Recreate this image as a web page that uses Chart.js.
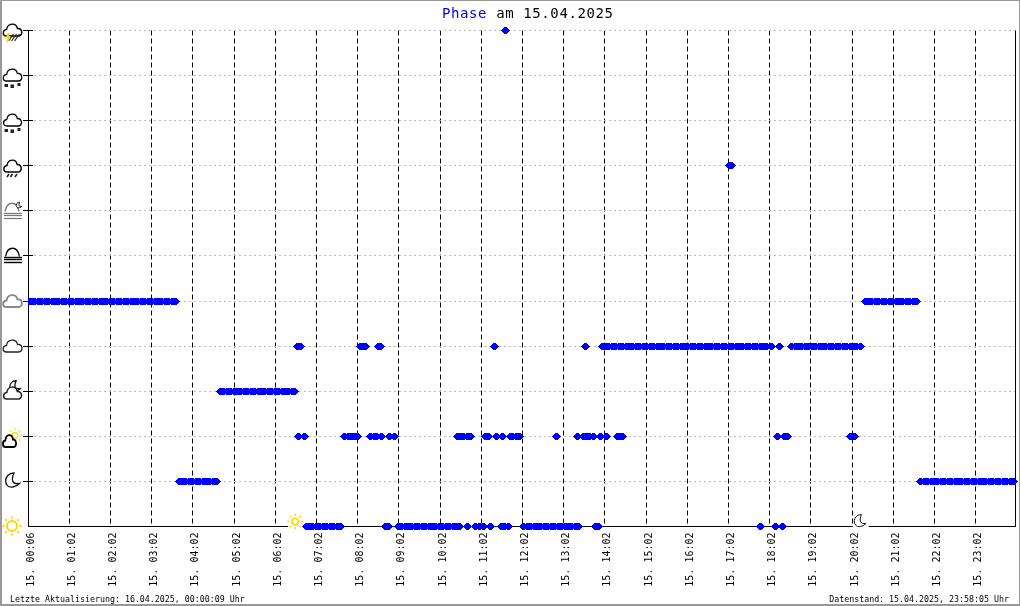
<!DOCTYPE html>
<html>
<head>
<meta charset="utf-8">
<title>Phase</title>
<script src="https://cdn.jsdelivr.net/npm/chart.js@4/dist/chart.umd.js"></script>
<style>
  html, body { margin: 0; padding: 0; background: #fff; }
  #wrap { position: relative; width: 1020px; height: 606px; overflow: hidden; }
  #wrap canvas { position: absolute; left: 0; top: 0; }
  .txt { position: absolute; font-family: "DejaVu Sans Mono", monospace; white-space: pre; color: #000; }
  #titel { left: 442px; top: 5px; font-size: 14px; letter-spacing: 0.6px; line-height: 16px; }
  #titel b { font-weight: normal; color: #0000ff; }
  #links { left: 10px; top: 594px; font-size: 8.3px; }
  #rechts { right: 11px; top: 594px; font-size: 8.3px; }
</style>
</head>
<body>
<div id="wrap">
  <canvas id="chart" width="1020" height="606"></canvas>
  <div class="txt" id="titel"><b>Phase</b> am 15.04.2025</div>
  <div class="txt" id="links">Letzte Aktualisierung: 16.04.2025, 00:00:09 Uhr</div>
  <div class="txt" id="rechts">Datenstand: 15.04.2025, 23:58:05 Uhr</div>
</div>
<script>
// Tick-Positionen (Minuten seit Mitternacht) und Beschriftungen
const tickMinutes = [2, 62, 122, 182, 242, 302, 362, 422, 482, 542, 602, 662, 722, 782, 842, 902, 962, 1022, 1082, 1142, 1202, 1262, 1322, 1382];
const tickLabels = ['15. 00:06', '15. 01:02', '15. 02:02', '15. 03:02', '15. 04:02', '15. 05:02', '15. 06:02', '15. 07:02', '15. 08:02', '15. 09:02', '15. 10:02', '15. 11:02', '15. 12:02', '15. 13:02', '15. 14:02', '15. 15:02', '15. 16:02', '15. 17:02', '15. 18:02', '15. 19:02', '15. 20:02', '15. 21:02', '15. 22:02', '15. 23:02'];

// Phasen von unten nach oben, je Phase die Messzeiten in Minuten
const klar = [407, 412, 417, 422, 427, 432, 437, 442, 447, 452, 457, 523, 527, 541, 546, 551, 556, 561, 566, 571, 576, 581, 586, 591, 596, 601, 606, 611, 616, 621, 626, 630, 642, 654, 660, 666, 675, 691, 696, 701, 724, 729, 734, 739, 744, 749, 754, 759, 764, 769, 774, 779, 784, 789, 794, 799, 804, 829, 833, 1069, 1091, 1101];
const mond = [222, 227, 232, 237, 242, 247, 252, 257, 262, 267, 272, 276, 1302, 1307, 1312, 1317, 1322, 1327, 1332, 1337, 1342, 1347, 1352, 1357, 1362, 1367, 1372, 1377, 1382, 1387, 1392, 1397, 1402, 1407, 1412, 1417, 1422, 1427, 1432, 1437];
const heiter = [396, 405, 463, 468, 473, 477, 482, 501, 506, 510, 517, 529, 535, 628, 632, 636, 642, 647, 668, 672, 684, 693, 704, 708, 713, 717, 772, 802, 811, 816, 820, 825, 835, 845, 860, 865, 868, 1094, 1104, 1108, 1200, 1205];
const mondWolken = [282, 287, 292, 297, 302, 307, 312, 317, 322, 327, 332, 337, 342, 347, 352, 357, 362, 367, 372, 377, 382, 387, 390];
const wolkig = [394, 399, 486, 491, 494, 512, 515, 681, 814, 838, 843, 848, 853, 858, 863, 868, 873, 878, 883, 888, 893, 898, 903, 908, 913, 918, 923, 928, 933, 938, 943, 948, 953, 958, 963, 968, 973, 978, 983, 988, 993, 998, 1003, 1008, 1013, 1018, 1023, 1028, 1033, 1038, 1043, 1048, 1053, 1058, 1063, 1068, 1073, 1078, 1084, 1096, 1114, 1119, 1124, 1129, 1134, 1139, 1144, 1149, 1154, 1159, 1164, 1169, 1174, 1179, 1184, 1189, 1194, 1199, 1204, 1209, 1215];
const bedeckt = [3, 7, 12, 17, 22, 27, 32, 37, 42, 47, 52, 57, 62, 67, 72, 77, 82, 87, 92, 97, 102, 107, 112, 117, 122, 127, 132, 137, 142, 147, 152, 157, 162, 167, 172, 177, 182, 187, 192, 197, 202, 207, 212, 217, 1221, 1226, 1231, 1236, 1241, 1246, 1251, 1256, 1261, 1266, 1271, 1276, 1281, 1286, 1291, 1296];
const nebel = [];
const dunst = [];
const regen = [1023, 1027];
const schneeregen = [];
const schnee = [];
const gewitter = [697];

// Sonnenaufgang und -untergang auf der Zeitachse
const aufgang = 391;
const untergang = 1213;

const phasen = [klar, mond, heiter, mondWolken, wolkig, bedeckt, nebel, dunst, regen, schneeregen, schnee, gewitter];

// Punkte aus den Listen aufbauen
function buildPoints() {
  const punkte = [];
  phasen.forEach((zeiten, stufe) => {
    zeiten.forEach(m => punkte.push({ x: m, y: stufe }));
  });
  return punkte;
}

// Raute als kleines Pixelbild, wie im Original
function buildRaute() {
  const c = document.createElement('canvas');
  c.width = 9;
  c.height = 7;
  const g = c.getContext('2d');
  g.fillStyle = '#0000ff';
  [3, 5, 7, 9, 7, 5, 3].forEach((w, i) => g.fillRect((9 - w) / 2, i, w, 1));
  return c;
}

// Icons
function wolke(ctx, x, y, farbe, breite, sx) {
  const s = sx || 1;
  ctx.strokeStyle = farbe;
  ctx.lineWidth = breite;
  ctx.fillStyle = '#fff';
  ctx.beginPath();
  ctx.moveTo(x - 6 * s, y + 6);
  ctx.bezierCurveTo(x - 10.5 * s, y + 6, x - 10.5 * s, y, x - 6 * s, y - 0.5);
  ctx.bezierCurveTo(x - 5 * s, y - 7.5, x + 4 * s, y - 7.5, x + 5 * s, y - 1.5);
  ctx.bezierCurveTo(x + 10.5 * s, y - 2, x + 11 * s, y + 6, x + 6 * s, y + 6);
  ctx.closePath();
  ctx.fill();
  ctx.stroke();
}

function sonne(ctx, x, y, r, breite) {
  ctx.strokeStyle = '#ffd700';
  ctx.lineWidth = breite;
  ctx.fillStyle = '#fff';
  ctx.beginPath();
  ctx.arc(x, y, r, 0, Math.PI * 2);
  ctx.fill();
  ctx.stroke();
  for (let i = 0; i < 8; i++) {
    const w = i * Math.PI / 4;
    ctx.beginPath();
    ctx.moveTo(x + Math.cos(w) * (r + 2.5), y + Math.sin(w) * (r + 2.5));
    ctx.lineTo(x + Math.cos(w) * (r + 4.5), y + Math.sin(w) * (r + 4.5));
    ctx.stroke();
  }
}

function sichel(ctx, x, y, s, breite) {
  ctx.strokeStyle = '#111';
  ctx.lineWidth = breite;
  ctx.fillStyle = '#fff';
  ctx.beginPath();
  ctx.moveTo(x + 1.5 * s, y - 7 * s);
  ctx.bezierCurveTo(x - 9.5 * s, y - 7 * s, x - 9.5 * s, y + 9 * s, x + 0.5 * s, y + 7 * s);
  ctx.quadraticCurveTo(x + 4 * s, y + 6.5 * s, x + 7 * s, y + 3.5 * s);
  ctx.quadraticCurveTo(x - 3.5 * s, y + 5 * s, x + 1.5 * s, y - 7 * s);
  ctx.closePath();
  ctx.fill();
  ctx.stroke();
}

function striche(ctx, yListe, farbe, breite) {
  ctx.strokeStyle = farbe;
  ctx.lineWidth = breite;
  yListe.forEach(yy => {
    ctx.beginPath();
    ctx.moveTo(4, yy);
    ctx.lineTo(22, yy);
    ctx.stroke();
  });
}

function kuppel(ctx, x, y, farbe) {
  ctx.strokeStyle = farbe;
  ctx.lineWidth = 1.3;
  ctx.beginPath();
  ctx.moveTo(x - 7, y);
  ctx.bezierCurveTo(x - 5, y - 11, x + 5, y - 11, x + 7, y);
  ctx.stroke();
}

function flocken(ctx, y, oben) {
  ctx.fillStyle = '#222';
  ctx.fillRect(4.5, y + (oben ? 1 : 0), 3.5, 3);
  ctx.fillRect(10.5, y + 1.5, 3.5, 3.5);
  ctx.fillRect(17.5, y, 3, 3);
}

function schraeg(ctx, xListe, y, laenge, farbe, breite) {
  ctx.strokeStyle = farbe;
  ctx.lineWidth = breite;
  xListe.forEach(x => {
    ctx.beginPath();
    ctx.moveTo(x + laenge * 0.35, y);
    ctx.lineTo(x - laenge * 0.35, y + laenge);
    ctx.stroke();
  });
}

const iconPlugin = {
  id: 'icons',
  beforeDatasetsDraw(chart) {
    const ctx = chart.ctx;
    const ys = chart.scales.y;
    ctx.save();
    // kleine Striche an der y-Achse
    ctx.lineWidth = 1;
    for (let i = 1; i < phasen.length; i++) {
      const yy = Math.round(ys.getPixelForValue(i) - 0.5) + 0.5;
      ctx.strokeStyle = i == 5 ? '#0000ff' : '#000';
      ctx.beginPath();
      ctx.moveTo(23, yy);
      ctx.lineTo(28, yy);
      ctx.stroke();
      ctx.strokeStyle = '#000';
      ctx.beginPath();
      ctx.moveTo(28, yy);
      ctx.lineTo(33, yy);
      ctx.stroke();
    }
    ctx.restore();
    // Pixelbild der Raute nicht glaetten
    ctx.imageSmoothingEnabled = false;
  },
  afterDraw(chart) {
    const ctx = chart.ctx;
    const ys = chart.scales.y;
    const xs = chart.scales.x;
    const a = chart.chartArea;
    ctx.save();
    ctx.imageSmoothingEnabled = true;

    // grauer Rahmen
    ctx.fillStyle = '#999';
    ctx.fillRect(0, 0, 1020, 1);
    ctx.fillRect(0, 0, 2, 606);
    ctx.fillRect(1019, 0, 1, 606);
    ctx.fillRect(0, 604, 1020, 2);

    // rechte Achse
    ctx.strokeStyle = '#000';
    ctx.lineWidth = 1;
    ctx.beginPath();
    ctx.moveTo(1015.5, a.top);
    ctx.lineTo(1015.5, a.bottom);
    ctx.stroke();

    // Auf- und Untergang auf der Achse
    const xa = xs.getPixelForValue(aufgang);
    const xu = xs.getPixelForValue(untergang);
    ctx.fillStyle = '#fff';
    ctx.fillRect(xa - 7, a.bottom - 2, 14, 4);
    ctx.fillRect(xu - 7, a.bottom - 2, 16, 4);
    sonne(ctx, xa, a.bottom - 5, 3.2, 1.6);
    sichel(ctx, xu + 0.5, a.bottom - 6, 0.85, 1);

    const y = i => Math.round(ys.getPixelForValue(i));
    // 0 klar
    sonne(ctx, 12, y(0) - 1, 5, 2);
    // 1 Mond
    sichel(ctx, 12.5, y(1) - 1, 1, 1.3);
    // 2 heiter
    sonne(ctx, 15, y(2) - 0.5, 2.8, 1.2);
    wolke(ctx, 9.5, y(2) + 5, '#000', 1.8, 0.7);
    // 3 Mond mit Wolke
    sichel(ctx, 15, y(3) - 5, 0.75, 1.3);
    wolke(ctx, 12.5, y(3) + 2, '#222', 1.5, 0.95);
    // 4 wolkig
    wolke(ctx, 12.5, y(4), '#222', 1.3);
    // 5 bedeckt
    wolke(ctx, 12.5, y(5), '#888', 1.8);
    // 6 Nebel
    kuppel(ctx, 12.5, y(6) + 0.5, '#000');
    striche(ctx, [y(6) + 1.5, y(6) + 3.5, y(6) + 6.5], '#000', 1.4);
    // 7 Dunst
    kuppel(ctx, 12, y(7) + 0.5, '#777');
    sichel(ctx, 19, y(7) - 6, 0.4, 1);
    striche(ctx, [y(7) + 2.5, y(7) + 4.5, y(7) + 7.5], '#777', 1.2);
    // 8 Regen
    wolke(ctx, 12.5, y(8), '#000', 1.4, 0.92);
    schraeg(ctx, [8, 11.5, 16], y(8) + 8, 3, '#222', 1.6);
    // 9 Schneeregen
    wolke(ctx, 12.5, y(9) - 1, '#000', 1.3, 0.95);
    flocken(ctx, y(9) + 7, true);
    // 10 Schnee
    wolke(ctx, 12.5, y(10) - 1, '#000', 1.3, 0.98);
    flocken(ctx, y(10) + 7, true);
    // 11 Gewitter
    wolke(ctx, 12.5, y(11) - 1, '#000', 1.4, 0.98);
    schraeg(ctx, [11, 14, 17], y(11) + 3, 7, '#222', 1.2);
    ctx.strokeStyle = '#ffd700';
    ctx.lineWidth = 2;
    ctx.beginPath();
    ctx.moveTo(9, y(11) + 2);
    ctx.lineTo(7, y(11) + 6);
    ctx.lineTo(9, y(11) + 6);
    ctx.lineTo(7, y(11) + 11);
    ctx.stroke();

    ctx.restore();
  }
};

new Chart(document.getElementById('chart'), {
  type: 'scatter',
  data: {
    datasets: [{
      data: buildPoints(),
      pointStyle: buildRaute(),
      pointRadius: 4.5,
      pointBorderWidth: 0,
      backgroundColor: '#0000ff',
      clip: { left: 0, top: 6, right: 6, bottom: 6 }
    }]
  },
  plugins: [iconPlugin],
  options: {
    responsive: false,
    animation: false,
    layout: { padding: { left: 0, right: 4, top: 30.5, bottom: 0 } },
    plugins: { legend: { display: false }, tooltip: { enabled: false } },
    scales: {
      x: {
        type: 'linear',
        min: 2,
        max: 1440,
        afterBuildTicks(axis) { axis.ticks = tickMinutes.map(v => ({ value: v })); },
        afterFit(axis) { axis.height = 79.5; },
        ticks: {
          callback: v => tickLabels[tickMinutes.indexOf(v)],
          autoSkip: false,
          minRotation: 90,
          maxRotation: 90,
          padding: 6,
          labelOffset: 3,
          color: '#000',
          font: { family: '"DejaVu Sans Mono"', size: 10 }
        },
        grid: { color: '#000', tickLength: 0, lineWidth: 1 },
        border: { color: '#000', dash: [5, 3], width: 1 }
      },
      y: {
        min: 0,
        max: 11,
        afterBuildTicks(axis) { axis.ticks = phasen.map((p, i) => ({ value: i })); },
        afterFit(axis) { axis.width = 28; },
        ticks: { display: false },
        grid: { color: '#bbb', tickLength: 0, lineWidth: 1 },
        border: { color: '#000', dash: [2, 3], width: 1 }
      }
    }
  }
});
</script>
</body>
</html>
